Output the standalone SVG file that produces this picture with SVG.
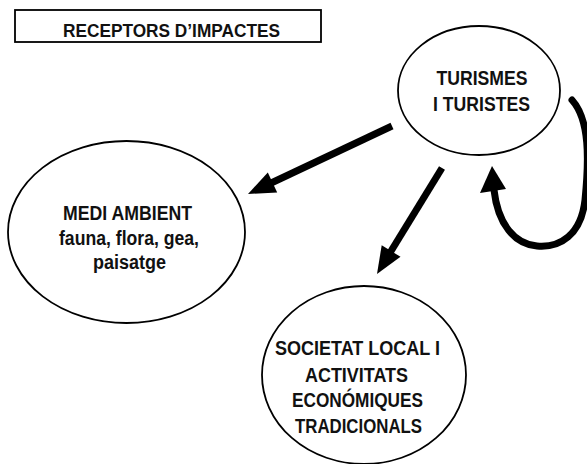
<svg xmlns="http://www.w3.org/2000/svg" width="587" height="464" viewBox="0 0 587 464">
<style>
.node ellipse{fill:#fff;stroke:#000;stroke-width:1.8}
.t{font-family:"Liberation Sans Narrow","Liberation Sans",Arial,sans-serif;font-weight:bold;fill:#111;text-anchor:middle}
.shaft{stroke:#000;stroke-width:7;fill:none}
.head{fill:#000}
</style>
<rect width="587" height="464" fill="#fff"/>
<g id="title">
<rect x="15" y="10" width="306" height="32" fill="#fff" stroke="#000" stroke-width="1.8"/>
<text class="t" x="171.5" y="37" font-size="19" textLength="217" lengthAdjust="spacingAndGlyphs">RECEPTORS D’IMPACTES</text>
</g>
<g id="turismes" class="node">
<ellipse cx="479" cy="90.5" rx="81" ry="64.5"/>
<text class="t" x="482" y="85" font-size="20" textLength="91" lengthAdjust="spacingAndGlyphs">TURISMES</text>
<text class="t" x="481.5" y="111" font-size="20" textLength="97" lengthAdjust="spacingAndGlyphs">I TURISTES</text>
</g>
<g id="medi" class="node">
<ellipse cx="126.5" cy="232" rx="118.5" ry="91"/>
<text class="t" x="127.5" y="220" font-size="20" textLength="129" lengthAdjust="spacingAndGlyphs">MEDI AMBIENT</text>
<text class="t" x="129" y="245" font-size="20" textLength="140" lengthAdjust="spacingAndGlyphs">fauna, flora, gea,</text>
<text class="t" x="129.5" y="269" font-size="20" textLength="73" lengthAdjust="spacingAndGlyphs">paisatge</text>
</g>
<g id="societat" class="node">
<ellipse cx="364" cy="375" rx="102" ry="89"/>
<text class="t" x="357.5" y="355" font-size="20" textLength="165" lengthAdjust="spacingAndGlyphs">SOCIETAT LOCAL I</text>
<text class="t" x="356.5" y="382" font-size="20" textLength="103" lengthAdjust="spacingAndGlyphs">ACTIVITATS</text>
<text class="t" x="357.5" y="407" font-size="20" textLength="131" lengthAdjust="spacingAndGlyphs">ECONÓMIQUES</text>
<text class="t" x="358.5" y="433" font-size="20" textLength="127" lengthAdjust="spacingAndGlyphs">TRADICIONALS</text>
</g>
<g id="connectors">
<line class="shaft" x1="392" y1="126" x2="268" y2="184.5"/>
<polygon class="head" points="248,194 277.2,192.4 267.8,172.4"/>
<line class="shaft" x1="442" y1="168" x2="388" y2="256"/>
<polygon class="head" points="377,274 400.5,256.8 381.7,245.2"/>
<path class="shaft" stroke-linecap="round" d="M572,100 C590,120 589,160 585,200 C581,235 560,248 537,246 C515,244 498,225 494,190"/>
<polygon class="head" points="492,166 480,193 506,189"/>
</g>
</svg>
